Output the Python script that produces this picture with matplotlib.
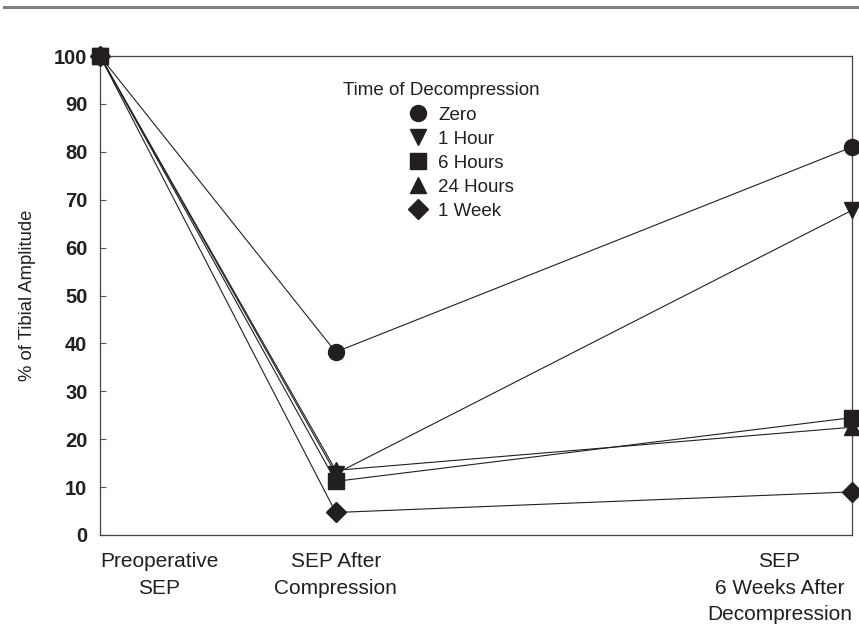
import matplotlib.pyplot as plt
from matplotlib.lines import Line2D

plt.rcParams['font.family'] = ['Liberation Sans', 'DejaVu Sans']

stages = [0, 1, 3.19]
stage_labels = ['Preoperative\nSEP', 'SEP After\nCompression', 'SEP\n6 Weeks After\nDecompression']

groups = ['Zero', '1 Hour', '6 Hours', '24 Hours', '1 Week']
markers = ['o', 'v', 's', '^', 'D']
zero = [100, 38.2, 81.0]
one_hour = [100, 12.8, 67.8]
six_hours = [100, 11.2, 24.5]
day = [100, 13.5, 22.5]
week = [100, 4.7, 9.0]
values = [zero, one_hour, six_hours, day, week]

col = '#231f20'
msize = {'o': 11.5, 'v': 11, 's': 11.5, '^': 11, 'D': 10}

fig = plt.figure(figsize=(8.59, 6.25), dpi=100)
ax = fig.add_axes([0.1164, 0.144, 0.8755, 0.7664])

# 6 Hours drawn last so the square sits on top
order = [0, 1, 3, 4, 2]
for i in order:
    ax.plot(stages, values[i], color=col, lw=0.8, marker=markers[i],
            markersize=msize[markers[i]], markerfacecolor=col,
            markeredgecolor=col, clip_on=False, zorder=3 + (i == 2))

ax.set_xlim(stages[0], stages[-1])
ax.set_ylim(0, 100)
ax.set_yticks(range(0, 101, 10))
ax.set_xticks(stages)
ax.set_xticklabels(stage_labels, fontsize=15, color='#231f20', linespacing=1.5)
ax.tick_params(axis='x', length=0, pad=12.5)
ax.tick_params(axis='y', direction='in', length=4, width=0.8, color='#555555',
               labelsize=14.5, pad=9, labelcolor='#231f20')
for t in ax.get_yticklabels():
    t.set_fontweight('bold')
xl = ax.get_xticklabels()
xl[0].set_ha('left'); xl[0].set_multialignment('center')
xl[2].set_ha('right'); xl[2].set_multialignment('center')

for s in ax.spines.values():
    s.set_color('#444444')
    s.set_linewidth(0.9)

ax.set_ylabel('% of Tibial Amplitude', fontsize=13.3, labelpad=13, color='#231f20')

# legend title as its own text, entries below it indented
fig.text(343 / 859, 1 - 95 / 625, 'Time of Decompression', fontsize=13.5,
         color='#231f20', ha='left', va='baseline')
handles = [Line2D([], [], ls='none', marker=m, color=col, markersize=msize[m])
           for m in markers]
leg = ax.legend(handles, groups, frameon=False, fontsize=13.5, loc='upper left',
                bbox_to_anchor=(397 / 859, 1 - 97 / 625), bbox_transform=fig.transFigure,
                handletextpad=0.5, labelspacing=0.37, borderpad=0, handlelength=1.2)
for t in leg.get_texts():
    t.set_color('#231f20')

# grey rule at the top of the figure
fig.add_artist(Line2D([0.005, 1.0], [0.989, 0.989], color='#808080', lw=2.2,
                      transform=fig.transFigure))

fig.savefig('out.png', dpi=100)
